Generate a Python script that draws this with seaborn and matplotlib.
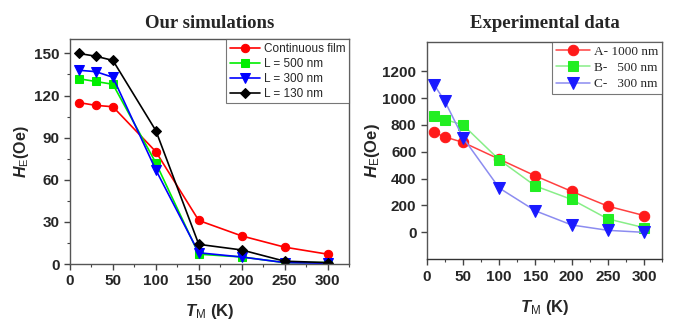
import matplotlib
matplotlib.use("Agg")
import matplotlib.pyplot as plt
import seaborn as sns
import pandas as pd
from matplotlib.ticker import MultipleLocator

sns.set_theme(style="white")
plt.rcParams['font.family'] = ['Liberation Sans', 'DejaVu Sans']
plt.rcParams['mathtext.fontset'] = 'custom'
plt.rcParams['mathtext.rm'] = 'Liberation Sans'
plt.rcParams['mathtext.bf'] = 'Liberation Sans:bold'
plt.rcParams['mathtext.it'] = 'Liberation Sans:italic'
plt.rcParams['mathtext.bfit'] = 'Liberation Sans:bold:italic'

# ---- Left panel: simulations ----
sim_T = [10, 30, 50, 100, 150, 200, 250, 300]
sim_cont = [115, 113, 112, 80, 31, 20, 12, 7]
sim_500 = [132, 130, 128, 72, 7, 5, 1, 1]
sim_300 = [138, 137, 133, 67, 8, 5, 1, 0.5]
sim_130 = [150, 148, 145, 95, 14, 10, 2, 1]
sim_labels = ["Continuous film", "L = 500 nm", "L = 300 nm", "L = 130 nm"]

# ---- Right panel: experimental ----
exp_T = [10, 25, 50, 100, 150, 200, 250, 300]
exp_A = [745, 710, 670, 545, 420, 305, 195, 125]
exp_B = [865, 840, 800, 540, 345, 245, 100, 35]
exp_C = [1100, 975, 705, 330, 160, 55, 15, 0]
exp_labels = ["A- 1000 nm", "B-   500 nm", "C-   300 nm"]

fig = plt.figure(figsize=(6.84, 3.2), dpi=100)
ax1 = fig.add_axes([0.1023, 0.175, 0.408, 0.702])
ax2 = fig.add_axes([0.624, 0.190, 0.344, 0.680])

sim_series = [sim_cont, sim_500, sim_300, sim_130]
sim_colors = ['#ff0000', '#00ee00', '#0000ff', '#000000']
sim_markers = ['o', 's', 'v', 'D']
sim_ms = [6, 6, 6.5, 5]
for ys, c, m, ms, lab in zip(sim_series, sim_colors, sim_markers, sim_ms, sim_labels):
    sns.lineplot(x=sim_T, y=ys, ax=ax1, color=c, marker=m, markersize=ms,
                 markeredgecolor=c, linewidth=1.2, label=lab)

ax1.set_xlim(0, 325)
ax1.set_ylim(0, 160)
ax1.xaxis.set_major_locator(MultipleLocator(50))
ax1.xaxis.set_minor_locator(MultipleLocator(25))
ax1.yaxis.set_major_locator(MultipleLocator(30))
ax1.yaxis.set_minor_locator(MultipleLocator(15))
ax1.tick_params(which='both', direction='out', bottom=True, left=True, color='#444444')
ax1.tick_params(which='major', length=4, width=1, labelsize=11)
ax1.tick_params(which='minor', length=2.5, width=0.8)
for lbl in ax1.get_xticklabels() + ax1.get_yticklabels():
    lbl.set_fontweight('bold')
for s in ax1.spines.values():
    s.set_color('#555555')
    s.set_linewidth(1.0)
ax1.set_xlabel(r'$\mathbfit{T}_{\mathrm{M}}$ (K)', fontsize=12, fontweight='bold', labelpad=10)
ax1.set_ylabel(r'$\mathbfit{H}_{\mathrm{E}}$(Oe)', fontsize=11.5, fontweight='bold', labelpad=2)
ax1.set_title('Our simulations', fontsize=13.5, fontweight='bold',
              family=['Liberation Serif'], pad=8)
leg1 = ax1.legend(loc='upper right', fontsize=8.5, frameon=True, fancybox=False,
                  borderaxespad=0, handlelength=2.6, handletextpad=0.3,
                  labelspacing=0.25, borderpad=0.3)
leg1.get_frame().set_edgecolor('#555555')
leg1.get_frame().set_linewidth(0.8)

exp_series = [exp_A, exp_B, exp_C]
exp_mcolors = ['#ff1a1a', '#22ee22', '#1a1aff']
exp_lcolors = ['#ff4040', '#88ee88', '#8c8cf0']
exp_markers = ['o', 's', 'v']
exp_ms = [7.5, 7, 8]
for ys, mc, lc, m, ms, lab in zip(exp_series, exp_mcolors, exp_lcolors, exp_markers, exp_ms, exp_labels):
    sns.lineplot(x=exp_T, y=ys, ax=ax2, color=lc, marker=m, markersize=ms,
                 markerfacecolor=mc, markeredgecolor=mc, linewidth=1.1, label=lab)

ax2.set_xlim(0, 325)
ax2.set_ylim(-200, 1420)
ax2.xaxis.set_major_locator(MultipleLocator(50))
ax2.xaxis.set_minor_locator(MultipleLocator(25))
ax2.set_yticks([0, 200, 400, 600, 800, 1000, 1200])
ax2.tick_params(which='both', direction='out', bottom=True, left=True, color='#444444')
ax2.tick_params(which='major', length=4, width=1, labelsize=11)
ax2.tick_params(which='minor', length=2.5, width=0.8)
for lbl in ax2.get_xticklabels() + ax2.get_yticklabels():
    lbl.set_fontweight('bold')
    lbl.set_fontstretch('condensed')
for s in ax2.spines.values():
    s.set_color('#555555')
    s.set_linewidth(1.0)
ax2.spines['bottom'].set_color('#333333')
ax2.set_xlabel(r'$\mathbfit{T}_{\mathrm{M}}$ (K)', fontsize=12, fontweight='bold', labelpad=10)
ax2.set_ylabel(r'$\mathbfit{H}_{\mathrm{E}}$(Oe)', fontsize=12, fontweight='bold', labelpad=0)
ax2.set_title('Experimental data', fontsize=13.5, fontweight='bold',
              family=['Liberation Serif'], pad=10)
leg2 = ax2.legend(loc='upper right', frameon=True, fancybox=False,
                  borderaxespad=0, handlelength=2.6, handletextpad=0.3,
                  labelspacing=0.3, borderpad=0.3, prop={'family': 'Liberation Serif', 'size': 9.5})
leg2.get_frame().set_edgecolor('#555555')
leg2.get_frame().set_linewidth(0.8)

fig.savefig('out.png', dpi=100, facecolor='white')
